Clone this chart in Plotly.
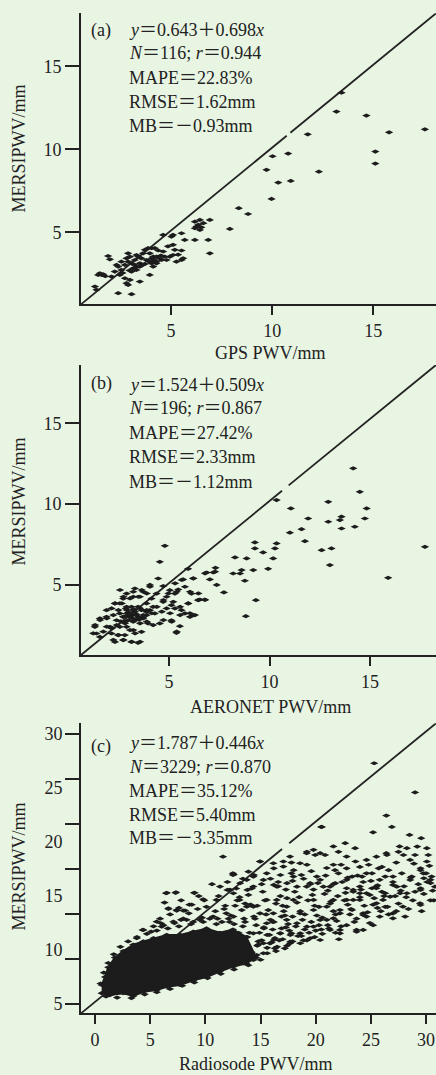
import plotly.graph_objects as go

# ---------------- data ----------------
# Panel (a): GPS PWV vs MERSI PWV (mm)
a_x = [13.43, 13.18, 14.66, 17.55, 15.78, 11.76, 15.1, 15.1, 10.79, 10.02, 9.72, 12.31, 10.30, 10.92,
       9.97, 8.35, 8.81, 7.91, 6.92, 6.43, 6.18, 6.26, 6.43, 6.18, 6.84, 6.92, 6.18, 5.52, 5.68, 5.6,
       5.52, 5.02, 4.61, 5.1, 5.19, 4.94, 5.27, 5.52, 4.61, 4.45, 4.28, 4.12, 3.95, 3.87, 4.04, 4.12,
       3.62, 3.54, 3.46, 3.29, 3.21, 3.05, 3.13, 3.29, 2.88, 2.80, 2.72, 2.55, 2.39, 2.22, 2.06, 2.47,
       2.72, 2.80, 2.97, 3.46, 3.95, 2.88, 3.05, 1.48, 1.40, 1.65, 1.89, 1.98, 1.24, 1.32, 2.39, 4.2,
       4.37, 4.53, 4.69, 3.79, 3.71, 4.28, 2.31, 2.55, 3.05, 3.21, 3.38, 3.71, 4.04, 5.1, 4.78, 4.12,
       4.28, 4.04, 2.88, 3.46, 1.57, 2.97, 5.1, 6.35, 6.6, 4.5, 3.9, 3.3, 2.6, 1.75, 4.85, 5.35,
       3.55, 4.15, 2.95, 6.5]
a_y = [13.41, 12.27, 12.03, 11.2, 11.02, 10.9, 9.86, 9.14, 9.74, 9.58, 8.76, 8.65, 7.99, 8.09,
       7.01, 6.45, 6.10, 5.2, 5.74, 5.74, 5.64, 5.34, 5.14, 5.24, 4.54, 3.73, 4.54, 4.94, 4.54, 3.43,
       3.9, 4.74, 4.84, 4.24, 3.94, 3.53, 3.23, 3.33, 3.84, 3.43, 3.23, 3.53, 3.73, 4.04, 3.13, 2.93,
       3.73, 3.43, 3.13, 3.63, 3.33, 3.13, 2.83, 2.73, 3.73, 3.43, 3.03, 3.23, 2.93, 2.63, 2.33, 2.43,
       2.23, 1.93, 2.13, 2.03, 2.43, 1.83, 1.27, 2.53, 2.43, 2.47, 3.57, 3.37, 1.73, 1.53, 1.33, 4.04,
       3.9, 3.33, 3.53, 3.33, 3.09, 3.53, 3.03, 2.73, 2.63, 3.03, 3.53, 3.94, 4.04, 4.84, 3.33, 3.23,
       3.13, 3.43, 3.23, 2.93, 2.43, 3.53, 3.63, 5.45, 5.55, 3.6, 3.25, 2.9, 2.55, 2.35, 4.15, 3.65,
       3.0, 3.35, 2.7, 5.3]

# Panel (b): AERONET PWV vs MERSI PWV (mm)
b_x = [14.16, 14.49, 10.35, 12.92, 14.83, 14.74, 11.06, 11.92, 12.92, 13.58, 13.5, 14.24, 13.58, 11.59,
       11.01, 11.76, 12.59, 13.08, 13.0, 17.73, 15.9, 10.35, 10.27, 10.18, 9.93, 9.68, 9.27, 9.27, 9.19,
       8.86, 8.77, 8.28, 8.61, 8.53, 8.19, 9.32, 8.82, 7.73, 7.31, 7.2, 6.87, 7.03, 6.78, 6.53, 6.2,
       5.95, 5.7, 6.12, 5.79, 5.95, 6.2, 5.62, 5.54, 5.37, 5.12, 4.79, 4.54, 4.46, 4.71, 5.04, 5.29,
       5.46, 4.88, 5.12, 4.71, 4.38, 4.13, 4.05, 3.88, 4.21, 4.54, 4.21, 3.71, 3.55, 3.3, 3.22, 2.89,
       2.72, 2.55, 2.31, 2.14, 1.89, 1.89, 1.56, 1.31, 1.39, 1.56, 2.06, 2.14, 2.31, 2.47, 2.72, 2.8,
       3.13, 3.46, 3.22, 3.63, 2.89, 2.55, 2.97, 3.3, 3.46, 3.88, 3.88, 3.3, 3.13, 2.89, 2.72, 2.55,
       2.39, 2.8, 3.13, 2.89, 3.46, 3.63, 3.71, 4.05, 4.29, 3.96, 4.88, 5.29, 5.79, 6.04, 6.45,
       6.79, 7.29, 7.37, 6.21, 5.63, 5.3, 6.04, 6.46, 5.38, 4.97, 4.72, 5.21, 5.55, 5.96, 6.46, 6.79,
       6.04, 6.29, 5.55, 5.13, 5.38, 5.05, 4.72, 4.64, 4.39, 4.05, 3.89, 3.64, 3.47, 3.22, 3.06,
       2.73, 2.65, 2.31, 2.48, 2.9, 3.22, 3.56, 3.89, 4.14, 3.72, 3.39, 3.06, 2.73, 2.23, 1.9, 1.57,
       1.32, 1.23, 1.73, 2.15, 2.4, 2.81, 3.22, 3.56, 3.89, 2.48, 2.23, 2.73, 3.14, 3.56, 3.06, 3.31,
       1.9, 2.56, 3.0, 3.35, 3.15, 2.95, 3.4, 3.7, 2.6, 3.25, 3.5, 2.85]
b_y = [12.21, 10.76, 10.25, 10.14, 9.73, 9.11, 9.73, 9.11, 8.91, 9.22, 9.01, 8.6, 8.49, 8.45,
       8.23, 7.71, 7.15, 7.26, 6.23, 7.36, 5.44, 7.57, 7.26, 6.64, 6.0, 7.01, 7.63, 7.26, 5.92,
       6.64, 5.26, 6.7, 5.92, 5.71, 5.71, 4.06, 3.07, 4.54, 6.06, 5.77, 5.77, 5.34, 4.1, 4.1, 5.4,
       6.0, 5.34, 4.47, 4.89, 3.86, 3.13, 3.44, 2.45, 2.04, 2.82, 7.42, 6.43, 5.4, 4.93, 4.68, 4.47,
       4.72, 4.27, 3.75, 3.96, 4.47, 4.16, 4.89, 3.86, 3.65, 2.62, 2.52, 4.58, 4.27, 4.78, 4.27, 4.47,
       4.16, 3.86, 3.86, 3.55, 3.44, 3.03, 2.93, 2.41, 2.0, 1.79, 2.41, 2.0, 1.48, 1.9, 1.59, 1.9,
       1.48, 1.42, 2.21, 2.1, 2.41, 2.41, 2.82, 2.82, 3.03, 3.13, 3.34, 3.34, 3.13, 3.24, 3.03, 3.24,
       2.82, 2.72, 3.65, 3.65, 3.65, 3.44, 2.93, 3.44, 3.24, 2.62, 3.55, 3.55, 3.24, 3.03, 4.06,
       5.72, 5.82, 5.0, 5.41, 5.31, 5.1, 4.58, 4.48, 4.58, 4.48, 4.07, 3.96, 3.65, 3.86, 4.07, 4.07,
       3.25, 3.14, 3.14, 2.73, 2.11, 3.25, 2.83, 3.35, 3.65, 5.0, 4.48, 4.69, 4.27, 4.58, 4.17,
       4.27, 3.86, 3.86, 3.45, 3.45, 3.45, 3.56, 3.45, 3.25, 3.14, 3.14, 3.04, 3.04, 3.14, 2.94, 2.83,
       2.52, 2.01, 2.11, 2.32, 2.52, 2.63, 2.73, 2.63, 2.73, 1.9, 1.6, 1.6, 1.49, 1.49, 2.21, 2.01,
       2.42, 4.69, 3.3, 3.2, 2.95, 3.1, 2.9, 3.0, 2.75, 3.5, 2.85, 3.55]

# Panel (c): Radiosonde PWV vs MERSI PWV (mm)
# outline of the saturated (fully overlapping) core of the point cloud
c_core_x = [0.6, 1.36, 2.57, 3.47, 4.38, 5.59, 6.5, 7.7, 8.9, 10.1, 11.3, 12.5, 13.7, 14.6,
            13.7, 12.5, 11.3, 10.1, 8.9, 7.7, 6.5, 5.3, 4.38, 3.47, 2.57, 1.8, 1.2, 0.9, 0.6]
c_core_y = [6.0, 5.83, 6.0, 5.74, 6.14, 6.3, 6.6, 6.76, 7.2, 7.5, 8.0, 8.46, 8.77, 9.3,
            11.2, 11.9, 11.6, 12.0, 11.7, 11.4, 11.4, 11.1, 10.8, 10.5, 9.9, 9.3, 8.4, 7.5, 6.76]
# individual points
c_x = [25.3, 29.0, 26.4, 26.9, 25.2, 20.55, 28.5, 29.56, 22.67, 23.57, 22.06, 19.2, 19.95, 20.85,
       14.96, 17.07, 17.8, 24.6, 25.5, 26.45, 27.5, 28.26, 29.2, 30.07, 27.95, 29.0, 30.2, 30.07,
       12.5, 11.6, 13.9, 16.2, 16.8, 17.8, 19.2, 18.7, 20.1, 21.6, 22.06, 22.8, 23.3, 24.0, 24.2,
       25.1, 25.7, 25.8, 26.6, 27.0, 27.8, 28.7, 29.5, 29.8, 30.5, 30.8, 29.5, 28.26, 27.35, 26.3,
       25.1, 24.0, 22.8, 21.76, 20.7, 19.5, 18.3, 17.4, 16.2, 15.26, 14.35, 13.15, 12.24,
       29.5, 30.4, 28.1, 27.0, 26.3, 25.5, 25.2, 24.3, 23.7, 22.8, 22.2, 21.3, 20.4, 19.5, 18.6,
       17.7, 17.2, 16.3, 15.6, 14.66, 28.56, 29.5, 27.0, 27.65, 26.75, 25.5, 24.6, 24.0, 23.4,
       22.8, 22.2, 23.3, 24.3, 21.6, 21.0, 20.4, 19.8, 19.2, 18.3, 17.8, 16.8, 16.2, 15.26, 29.5, 30.4,
       6.5, 7.3, 9.0, 9.8, 6.65, 7.4, 8.16, 8.76, 4.38, 3.78, 5.59, 6.04, 7.1, 8.3, 9.5, 10.7, 11.9,
       12.5, 14.95, 12.2, 13.1, 14.35, 13.75, 15.56, 16.47, 17.07, 17.98, 17.37, 18.58, 19.8, 19.18,
       20.4, 21.3, 21.6, 22.2, 23.4, 24.0, 24.6, 25.5, 26.1, 27.0, 27.9, 29.45, 30.4, 29.76, 28.55,
       27.6, 26.4, 22.8, 21.6, 20.5, 20.4, 21.75, 22.8, 24.3, 24.9, 25.8, 23.7, 22.2, 21.0, 19.8,
       18.6, 17.67, 16.77, 15.86, 15.26, 14.35, 13.44, 12.54, 11.93, 13.14, 14.35, 15.56, 14.95,
       16.16, 17.37, 17.98, 16.47, 14.35, 12.54, 11.33, 11.0, 11.33, 12.54, 13.75, 15.56, 16.16,
       18.58, 19.18, 19.8, 17.67,
       10.4, 10.9, 11.5, 11.8, 12.3, 12.6, 12.9, 13.3, 13.5, 13.9, 14.1, 14.4, 14.6, 14.9, 15.2,
       15.4, 15.7, 15.9, 16.1, 16.3, 16.6, 16.8, 17.0, 17.2, 17.5, 17.7, 17.9, 18.1, 18.3, 18.6,
       18.8, 19.0, 19.2, 19.5, 19.7, 19.9, 20.1, 20.3, 20.6, 20.9, 21.1, 21.4, 21.6, 21.9, 22.1,
       22.4, 22.7, 22.9, 23.1, 23.5, 23.8, 24.1, 24.4, 24.7, 25.0, 25.3, 25.6, 26.0, 26.3, 26.6,
       27.2, 27.5, 28.0, 28.4, 28.8, 29.3, 29.8, 30.3, 30.6,
       5.3, 5.9, 6.2, 6.8, 7.2, 7.6, 8.0, 8.5, 8.9, 9.3, 9.7, 10.1, 6.3, 7.8, 9.4, 11.2, 10.6,
       12.0, 13.4, 12.8,
       12.2, 12.8, 13.3, 13.7, 14.2, 14.7, 15.1, 15.6, 16.0, 16.5, 17.0, 17.4, 17.9, 18.4, 18.9,
       19.4, 19.9, 20.5, 21.2, 21.8, 12.5, 13.0, 13.8, 11.6, 11.0, 10.6, 11.3, 11.9,
       12.57, 6.44, 7.34, 9.0, 9.9, 6.65, 7.4, 8.0, 8.55, 4.32, 5.08, 5.98, 7.8, 12.0, 13.8, 14.4,
       1.0, 2.0, 3.3, 4.5, 5.6, 6.8, 7.9, 9.0, 10.2, 11.4, 12.6, 13.9, 15.0,
       0.5, 0.8, 1.2, 1.7, 2.3, 3.0, 3.8, 4.7, 5.6, 6.6, 7.6, 8.7, 9.8, 11.0, 12.2, 13.4,
       15.3, 16.1, 16.9, 14.8, 15.6, 16.4, 17.3,
       13.2, 13.6, 14.0, 14.5, 14.8, 15.3, 15.5, 15.8, 16.2, 16.4, 16.7, 16.9, 17.1, 17.4, 17.6,
       17.9, 18.2, 18.5, 18.7, 19.0, 19.3, 19.6, 19.8, 20.0, 20.3, 20.6, 20.8, 21.1, 21.3, 21.6,
       21.8, 22.0, 22.3, 22.6, 22.9, 23.2, 23.4, 23.7, 24.0, 24.3, 24.6, 24.9, 25.2, 25.6, 25.9,
       26.2, 26.5, 27.0, 27.3, 27.7, 28.2, 28.6, 29.0, 29.6, 30.1, 30.7,
       11.1, 11.7, 12.1, 12.7, 13.1, 13.6, 14.2, 14.7, 15.1, 15.9, 16.6, 17.3, 18.0, 18.9, 19.6,
       20.2, 21.0, 22.3, 23.6, 24.8, 26.0, 27.3, 28.9, 30.0]
c_y = [27.3, 24.6, 22.45, 21.4, 20.9, 21.4, 20.66, 20.36, 19.9, 19.43, 19.1, 19.1, 18.8, 18.8,
       18.2, 18.2, 18.1, 18.35, 18.65, 18.8, 19.1, 19.43, 19.58, 19.43, 18.8, 18.8, 18.8, 18.2,
       16.95, 18.65, 17.26, 17.57, 16.95, 17.1, 17.9, 16.95, 16.8, 17.9, 17.1, 17.57, 16.8, 17.7,
       16.8, 17.1, 17.57, 16.5, 17.4, 16.8, 17.1, 16.8, 17.57, 16.65, 16.8, 15.87, 15.57, 15.26,
       15.87, 15.26, 15.72, 15.26, 15.72, 16.19, 15.87, 16.19, 15.87, 16.19, 16.03, 16.49, 16.8,
       16.19, 15.57,
       14.17, 14.6, 13.1, 12.94, 14.0, 14.33, 12.3, 11.86, 11.7, 12.3, 11.55, 11.86, 10.93, 11.09,
       10.63, 10.77, 10.16, 10.16, 9.7, 9.54, 16.49, 15.72, 16.03, 15.26, 14.94, 15.72, 15.26,
       14.64, 15.57, 14.64, 13.71, 13.71, 13.25, 12.94, 14.02, 12.78, 13.71, 12.16, 12.48, 11.55,
       11.55, 10.93, 10.63, 17.4, 16.5,
       15.3, 15.3, 15.3, 14.7, 13.87, 13.7, 13.65, 14.2, 11.86, 11.1, 12.63, 12.17, 12.63, 12.8,
       12.8, 13.1, 13.4, 17.1, 18.2, 15.57, 14.64, 15.88, 14.02, 14.64, 15.88, 17.73, 16.8, 14.02,
       13.4, 14.64, 15.88, 16.5, 15.88, 14.64, 13.4, 14.64, 15.88, 17.1, 15.88, 14.64, 13.4, 14.02,
       14.33, 16.2, 17.1, 18.35, 19.6, 18.97, 18.66, 19.6, 21.4, 18.97, 17.4, 16.5, 13.4, 12.5,
       13.1, 11.86, 11.86, 12.8, 12.17, 11.55, 10.62, 11.55, 10.62, 9.7, 9.08, 8.77, 8.77, 10.3,
       10.93, 11.55, 12.48, 13.4, 13.4, 12.8, 14.64, 14.64, 14.02, 13.1, 11.55, 14.64, 15.88,
       15.26, 16.5, 17.1, 18.04, 18.04, 18.97, 19.28, 18.66,
       12.9, 13.6, 12.6, 14.1, 13.2, 12.4, 14.6, 13.7, 12.9, 15.1, 14.2, 13.1, 12.3, 11.6, 15.4,
       14.6, 13.7, 12.8, 11.9, 11.1, 15.9, 15.0, 14.1, 13.2, 12.4, 11.4, 16.4, 15.4, 14.4, 13.6,
       12.8, 11.9, 10.9, 16.1, 15.1, 14.1, 13.2, 12.3, 11.5, 16.9, 15.5, 14.5, 13.6, 12.7, 11.0,
       16.3, 15.3, 14.2, 13.3, 12.6, 16.9, 15.6, 14.1, 13.5, 16.4, 14.8, 13.9, 15.4, 16.8, 13.3,
       15.0, 14.3, 15.9, 13.8, 14.6, 16.1, 15.2, 17.8, 15.5,
       12.2, 12.9, 12.3, 13.3, 12.5, 13.9, 12.9, 13.4, 12.6, 13.8, 13.0, 14.0, 14.4, 14.6, 15.0,
       15.0, 16.1, 16.3, 16.6, 15.7,
       9.3, 10.1, 9.5, 10.6, 9.8, 10.4, 10.9, 10.2, 10.7, 10.3, 11.0, 10.4, 10.8, 11.3, 10.9,
       11.6, 11.2, 11.9, 12.0, 11.6, 11.0, 11.6, 11.2, 10.8, 11.5, 9.0, 9.6, 9.9,
       17.0, 15.26, 15.35, 15.3, 14.6, 13.8, 13.65, 13.65, 14.2, 11.86, 11.7, 12.48, 12.8, 15.57,
       15.57, 16.95,
       5.7, 5.6, 5.55, 5.9, 6.1, 6.4, 6.7, 7.0, 7.4, 7.8, 8.2, 8.6, 9.1,
       6.9, 7.9, 8.8, 9.6, 10.3, 10.8, 11.2, 11.5, 11.8, 12.0, 12.2, 12.4, 12.6, 12.4, 12.6, 12.2,
       12.0, 12.6, 13.1, 10.5, 11.4, 9.9, 12.1,
       10.2, 12.6, 11.6, 12.9, 10.8, 12.1, 13.3, 11.4, 12.6, 14.3, 10.9, 12.0, 13.6, 14.8, 11.8,
       13.1, 12.2, 14.9, 11.3, 13.3, 14.6, 12.6, 15.6, 11.8, 14.0, 13.0, 15.2, 12.3, 14.3, 16.1,
       13.3, 15.0, 12.2, 14.6, 16.7, 13.8, 15.4, 12.9, 14.9, 16.3, 13.1, 15.1, 14.2, 16.0, 13.6,
       15.0, 14.0, 16.3, 13.6, 15.5, 14.9, 16.7, 15.4, 13.6, 16.3, 14.6,
       12.9, 13.8, 12.9, 14.1, 14.9, 14.3, 15.7, 14.1, 16.1, 16.6, 16.3, 15.6, 17.4, 16.6, 17.3,
       16.2, 17.6, 17.9, 18.2, 17.9, 17.7, 18.1, 18.0, 17.1]

# axis ticks and annotation text
ab_ticks = [5, 10, 15]
c_xticks = [0, 5, 10, 15, 20, 25, 30]
c_ylabels = [5, 10, 15, 20, 25, 30]
c_ymarks = [5, 9.1667, 13.333, 17.5, 21.667, 25.833, 30]
stats = {
    "a": ["(a)", "<i>y</i>＝0.643＋0.698<i>x</i>", "<i>N</i>＝116; <i>r</i>＝0.944",
          "MAPE＝22.83%", "RMSE＝1.62mm", "MB＝－0.93mm"],
    "b": ["(b)", "<i>y</i>＝1.524＋0.509<i>x</i>", "<i>N</i>＝196; <i>r</i>＝0.867",
          "MAPE＝27.42%", "RMSE＝2.33mm", "MB＝－1.12mm"],
    "c": ["(c)", "<i>y</i>＝1.787＋0.446<i>x</i>", "<i>N</i>＝3229; <i>r</i>＝0.870",
          "MAPE＝35.12%", "RMSE＝5.40mm", "MB＝－3.35mm"],
}
x_titles = ["GPS PWV/mm", "AERONET PWV/mm", "Radiosode PWV/mm"]
y_title = "MERSIPWV/mm"

# ---------------- layout helpers ----------------
W, H = 436, 1075
BG = "#e9f5e3"
INK = "#222222"
DOT = "#1c1c1c"
FONT = "Liberation Serif, 'Noto Sans CJK SC', serif"

def fy(py):
    return 1 - py / H

ranges = {
    "a": dict(x=[0.551, 18.1], y=[0.66, 18.19], top=13.3, bot=304.3),
    "b": dict(x=[0.62, 18.28], y=[0.67, 18.6], top=365, bot=655),
    "c": dict(x=[-1.27, 30.9], y=[4.14, 31.0], top=723.3, bot=1013.3),
}
# small break in the diagonal reference line (as in the original), in x units
gaps = {"a": (10.72, 10.9), "b": (10.62, 10.95), "c": (16.95, 17.6)}

fig = go.Figure()
mk = dict(symbol="diamond-wide", size=6, color=DOT, line=dict(width=0))

axis_ids = {"a": ("x", "y"), "b": ("x2", "y2"), "c": ("x3", "y3")}

for key in ["a", "b", "c"]:
    xa, ya = axis_ids[key]
    r = ranges[key]
    (x0, x1), (y0, y1) = r["x"], r["y"]
    slope = (y1 - y0) / (x1 - x0)
    g0, g1 = gaps[key]
    xs = [x0, g0, None, g1, x1 + 0.3]
    ys = [None if v is None else y0 + (v - x0) * slope for v in xs]
    fig.add_trace(go.Scatter(x=xs, y=ys, mode="lines",
                             line=dict(color=INK, width=1.8), xaxis=xa, yaxis=ya,
                             showlegend=False, hoverinfo="skip"))

fig.add_trace(go.Scatter(x=c_core_x, y=c_core_y, fill="toself", mode="lines+markers",
                         line=dict(width=2, color=DOT), fillcolor=DOT, marker=mk,
                         xaxis="x3", yaxis="y3", showlegend=False, hoverinfo="skip"))
fig.add_trace(go.Scatter(x=a_x, y=a_y, mode="markers", marker=mk, xaxis="x", yaxis="y", showlegend=False))
fig.add_trace(go.Scatter(x=b_x, y=b_y, mode="markers", marker=mk, xaxis="x2", yaxis="y2", showlegend=False))
fig.add_trace(go.Scatter(x=c_x, y=c_y, mode="markers", marker=mk, xaxis="x3", yaxis="y3", showlegend=False))

common = dict(showline=True, linecolor=INK, linewidth=2, ticks="outside", tickcolor=INK,
              tickwidth=1.5, showgrid=False, zeroline=False, automargin=False,
              tickfont=dict(family=FONT, size=18, color=INK))

layout = {}
for i, key in enumerate(["a", "b", "c"]):
    r = ranges[key]
    sx = "" if i == 0 else str(i + 1)
    ydom = [fy(r["bot"]), fy(r["top"])]
    xt = c_xticks if key == "c" else ab_ticks
    layout["xaxis" + sx] = dict(common, domain=[81 / W, 1], range=r["x"], tickvals=xt,
                                ticklen=9, anchor="y" + sx)
    if key == "c":
        layout["yaxis" + sx] = dict(common, domain=ydom, range=r["y"], tickvals=c_ymarks,
                                    showticklabels=False, ticklen=14, anchor="x" + sx)
    else:
        layout["yaxis" + sx] = dict(common, domain=ydom, range=r["y"], tickvals=ab_ticks,
                                    ticklen=14, anchor="x" + sx)

# label-only axis for panel (c) y labels
layout["yaxis4"] = dict(overlaying="y3", range=ranges["c"]["y"], tickvals=c_ylabels,
                        ticks="outside", ticklen=14, tickcolor="rgba(0,0,0,0)", showline=False,
                        showgrid=False, zeroline=False, automargin=False, anchor="x3", side="left",
                        tickfont=dict(family=FONT, size=18, color=INK))
fig.add_trace(go.Scatter(x=[None], y=[None], xaxis="x3", yaxis="y4", showlegend=False))

ann = []
line_y = {"a": [30, 53.3, 78.3, 101.7, 126], "b": [385, 408.3, 433.3, 457.3, 481.7],
          "c": [743.3, 766.7, 790.7, 815, 838.3]}
label_y = {"a": 30, "b": 384, "c": 746}
for key in ["a", "b", "c"]:
    lines = stats[key]
    ann.append(dict(text=lines[0], x=89 / W, y=fy(label_y[key]), xref="paper", yref="paper",
                    xanchor="left", yanchor="middle", showarrow=False,
                    font=dict(family=FONT, size=18, color=INK)))
    for t, py in zip(lines[1:], line_y[key]):
        ann.append(dict(text=t, x=127 / W, y=fy(py), xref="paper", yref="paper",
                        xanchor="left", yanchor="middle", showarrow=False,
                        font=dict(family=FONT, size=18, color=INK)))

for t, (cx, cy) in zip(x_titles, [(270, 353), (270, 707), (256, 1063.5)]):
    ann.append(dict(text=t, x=cx / W, y=fy(cy), xref="paper", yref="paper", xanchor="center",
                    yanchor="middle", showarrow=False, font=dict(family=FONT, size=18, color=INK)))
for cy in [149, 502, 867]:
    ann.append(dict(text=y_title, x=18.5 / W, y=fy(cy), xref="paper", yref="paper",
                    xanchor="center", yanchor="middle", textangle=-90, showarrow=False,
                    font=dict(family=FONT, size=18, color=INK)))

fig.update_layout(width=W, height=H, margin=dict(l=0, r=0, t=0, b=0),
                  paper_bgcolor=BG, plot_bgcolor=BG, annotations=ann, **layout)

fig.write_html("out.html", config={"displayModeBar": False},
               post_script="document.body.style.margin='0px';document.body.style.background='%s';" % BG)
